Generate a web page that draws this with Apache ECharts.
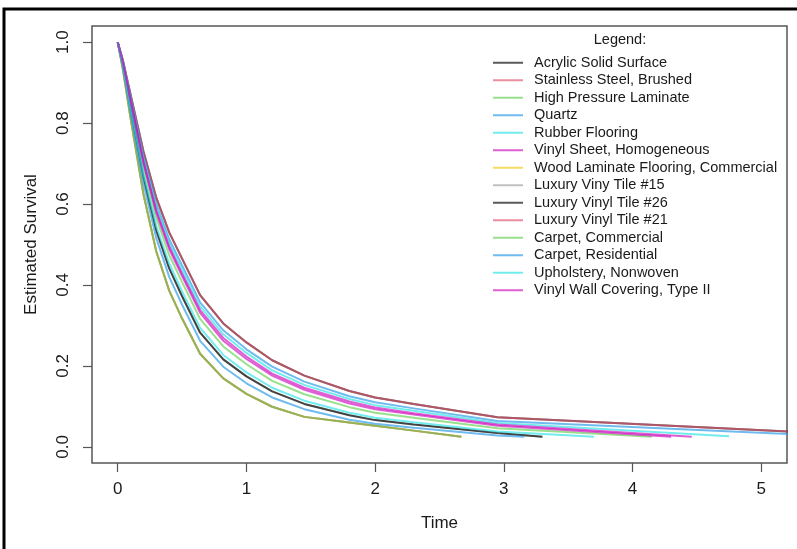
<!DOCTYPE html>
<html>
<head>
    <meta charset="utf-8">
    <title>Estimated Survival</title>
    <script src="https://cdn.jsdelivr.net/npm/echarts@6/dist/echarts.min.js"></script>
    <style>
        html, body { margin: 0; padding: 0; background: #fff; }
    </style>
</head>
<body>
    <div id="main" style="width: 797px;height:549px;"></div>
    <script type="text/javascript">
        // time points shared by all curves (each curve then gets its own last point)
        var times = [0, 0.04, 0.1, 0.2, 0.3, 0.4, 0.5, 0.64, 0.82, 1.0, 1.2, 1.45, 1.8, 2.0, 2.3, 2.95];

        var materials = [
            'Acrylic Solid Surface', 'Stainless Steel, Brushed', 'High Pressure Laminate', 'Quartz',
            'Rubber Flooring', 'Vinyl Sheet, Homogeneous', 'Wood Laminate Flooring, Commercial',
            'Luxury Viny Tile #15', 'Luxury Vinyl Tile #26', 'Luxury Vinyl Tile #21',
            'Carpet, Commercial', 'Carpet, Residential', 'Upholstery, Nonwoven', 'Vinyl Wall Covering, Type II'
        ];
        var colors = ['#000000', '#DF536B', '#61D04F', '#2297E6', '#28E2E5', '#CD0BBC', '#F5C710', '#9E9E9E',
            '#000000', '#DF536B', '#61D04F', '#2297E6', '#28E2E5', '#CD0BBC'];

        // time of the last point of each curve
        var endTimes = [5.25, 5.25, 4.15, 5.25, 4.75, 4.46, 2.67, 3.3, 3.3, 2.67, 2.67, 3.16, 3.7, 4.3];

        // survival values, last value belongs to endTimes
        var survAcrylic = [1, 0.955, 0.87, 0.73, 0.615, 0.53, 0.465, 0.375, 0.305, 0.258, 0.214, 0.176, 0.138, 0.122, 0.106, 0.073, 0.037];
        var survStainless = [1, 0.955, 0.87, 0.73, 0.615, 0.53, 0.465, 0.375, 0.305, 0.258, 0.214, 0.176, 0.138, 0.122, 0.106, 0.073, 0.037];
        var survHPL = [1, 0.947, 0.849, 0.691, 0.565, 0.474, 0.407, 0.316, 0.248, 0.204, 0.163, 0.130, 0.098, 0.084, 0.072, 0.046, 0.025];
        var survQuartz = [1, 0.953, 0.864, 0.718, 0.600, 0.513, 0.448, 0.357, 0.288, 0.241, 0.198, 0.161, 0.125, 0.110, 0.095, 0.064, 0.031];
        var survRubber = [1, 0.952, 0.861, 0.712, 0.592, 0.504, 0.437, 0.347, 0.278, 0.232, 0.189, 0.153, 0.118, 0.103, 0.089, 0.059, 0.026];
        var survVinylSheet = [1, 0.950, 0.857, 0.706, 0.584, 0.495, 0.428, 0.338, 0.269, 0.223, 0.181, 0.146, 0.112, 0.097, 0.083, 0.055, 0.025];
        var survWood = [1, 0.933, 0.812, 0.624, 0.482, 0.386, 0.317, 0.230, 0.169, 0.131, 0.099, 0.074, 0.060, 0.052, 0.040, 0.025];
        var survLVT15 = [1, 0.942, 0.836, 0.666, 0.534, 0.441, 0.372, 0.282, 0.216, 0.174, 0.137, 0.106, 0.078, 0.066, 0.055, 0.034, 0.025];
        var survLVT26 = [1, 0.942, 0.836, 0.666, 0.534, 0.441, 0.372, 0.282, 0.216, 0.174, 0.137, 0.106, 0.078, 0.066, 0.055, 0.034, 0.025];
        var survLVT21 = [1, 0.933, 0.812, 0.624, 0.482, 0.386, 0.317, 0.230, 0.169, 0.131, 0.099, 0.074, 0.060, 0.052, 0.040, 0.025];
        var survCarpetCom = [1, 0.933, 0.812, 0.624, 0.482, 0.386, 0.317, 0.230, 0.169, 0.131, 0.099, 0.074, 0.060, 0.052, 0.040, 0.025];
        var survCarpetRes = [1, 0.939, 0.827, 0.651, 0.515, 0.420, 0.351, 0.262, 0.198, 0.157, 0.122, 0.093, 0.067, 0.057, 0.047, 0.028, 0.025];
        var survUpholstery = [1, 0.944, 0.841, 0.675, 0.545, 0.453, 0.384, 0.294, 0.227, 0.184, 0.146, 0.114, 0.084, 0.072, 0.061, 0.038, 0.025];
        var survVinylWall = [1, 0.949, 0.855, 0.701, 0.578, 0.489, 0.422, 0.331, 0.262, 0.217, 0.176, 0.141, 0.107, 0.093, 0.080, 0.052, 0.025];

        var xTicks = [0, 1, 2, 3, 4, 5];
        var yTicks = [0, 0.2, 0.4, 0.6, 0.8, 1.0];

        var allSurv = [survAcrylic, survStainless, survHPL, survQuartz, survRubber, survVinylSheet, survWood,
            survLVT15, survLVT26, survLVT21, survCarpetCom, survCarpetRes, survUpholstery, survVinylWall];

        var series = allSurv.map(function (vals, k) {
            var data = vals.slice(0, -1).map(function (v, i) { return [times[i], v]; });
            data.push([endTimes[k], vals[vals.length - 1]]);
            return {
                name: materials[k],
                type: 'line',
                data: data,
                symbol: 'none',
                color: colors[k],
                lineStyle: { width: 2, opacity: 0.65 },
                clip: true,
                silent: true
            };
        });

        var font = 'Liberation Sans, Arial, sans-serif';
        var myChart = echarts.init(document.getElementById('main'));
        var option = {
            animation: false,
            backgroundColor: '#fff',
            textStyle: { fontFamily: font },
            grid: {
                left: 92, right: 10, top: 26, bottom: 86,
                show: true, borderColor: '#555', borderWidth: 1.5
            },
            xAxis: {
                type: 'value',
                min: -0.2, max: 5.2,
                name: 'Time',
                nameLocation: 'middle',
                nameGap: 52,
                nameTextStyle: { fontSize: 17, color: '#1a1a1a', fontFamily: font },
                axisLine: { show: false, onZero: false },
                splitLine: { show: false },
                axisTick: { show: true, length: 9, customValues: xTicks, lineStyle: { color: '#555', width: 1.2 } },
                axisLabel: { customValues: xTicks, margin: 18, fontSize: 17, color: '#1a1a1a', fontFamily: font }
            },
            yAxis: {
                type: 'value',
                min: -0.04, max: 1.04,
                name: 'Estimated Survival',
                nameLocation: 'middle',
                nameGap: 52,
                nameTextStyle: { fontSize: 17, color: '#1a1a1a', fontFamily: font },
                axisLine: { show: false, onZero: false },
                splitLine: { show: false },
                axisTick: { show: true, length: 9, customValues: yTicks, lineStyle: { color: '#555', width: 1.2 } },
                axisLabel: {
                    customValues: yTicks, rotate: 90, margin: 20, fontSize: 17, color: '#1a1a1a', fontFamily: font,
                    formatter: function (v) { return v.toFixed(1); }
                }
            },
            legend: {
                orient: 'vertical',
                left: 493, top: 54,
                padding: 0,
                icon: 'rect',
                itemWidth: 30, itemHeight: 2, itemGap: 0,
                itemStyle: { opacity: 0.65 },
                selectedMode: false,
                textStyle: { fontSize: 14.5, lineHeight: 17.5, color: '#1a1a1a', fontFamily: font, padding: [0, 0, 0, 6] },
                data: materials
            },
            graphic: [
                {
                    type: 'text', x: 620, y: 40,
                    style: { text: 'Legend:', align: 'center', verticalAlign: 'middle', fontSize: 14.5, fill: '#1a1a1a', fontFamily: font }
                },
                {
                    type: 'rect',
                    shape: { x: 4, y: 9, width: 820, height: 600 },
                    style: { fill: 'none', stroke: '#000', lineWidth: 3 },
                    silent: true
                }
            ],
            series: series
        };
        myChart.setOption(option);
    </script>
</body>
</html>
